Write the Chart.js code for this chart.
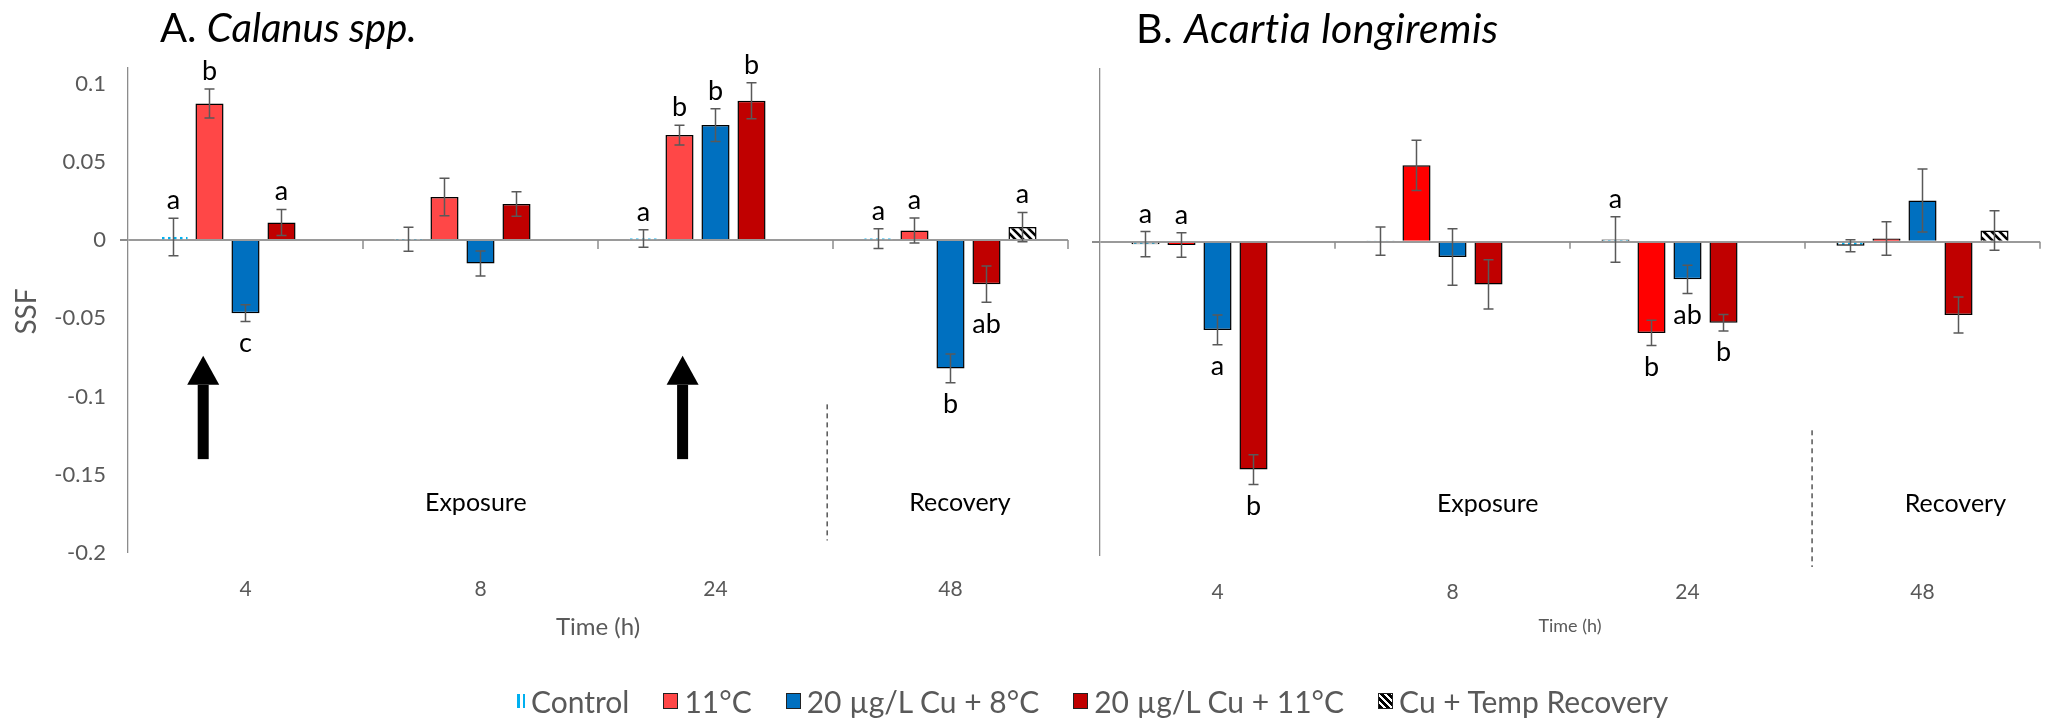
<!DOCTYPE html>
<html>
<head>
<meta charset="utf-8">
<script src="https://cdn.jsdelivr.net/npm/chart.js@4.4.0/dist/chart.umd.min.js"></script>
<style>
  html, body { margin: 0; padding: 0; background: #fff; }
  #wrap { position: relative; width: 2051px; height: 721px; font-family: Lato, 'Open Sans', sans-serif; }
  canvas { position: absolute; top: 0; }
  #cA { left: 0; }
  #cB { left: 1080px; }
  .ttl { position: absolute; top: 3px; font-size: 40px; color: #000; white-space: nowrap; }
  .ttl i { font-style: italic; }
  #legend { position: absolute; top: 683px; left: 517px; display: flex; align-items: center; font-size: 30px; color: #595959; white-space: nowrap; }
  #legend span.item { display: flex; align-items: center; margin-right: 34px; }
  #legend .sw { display: inline-block; width: 13px; height: 14px; border: 1px solid #222; margin-right: 6px; }
</style>
</head>
<body>
<div id="wrap">
  <canvas id="cA" width="1080" height="721"></canvas>
  <canvas id="cB" width="971" height="721"></canvas>
  <div class="ttl" style="left:160px">A. <i>Calanus spp.</i></div>
  <div class="ttl" style="left:1136px; font-size:41px; letter-spacing:0.5px">B. <i>Acartia longiremis</i></div>
  <div id="legend"></div>
</div>
<script>
// ---- data ----
const times = ['4', '8', '24', '48'];
const seriesNames = ['Control', '11°C', '20 µg/L Cu + 8°C', '20 µg/L Cu + 11°C', 'Cu + Temp Recovery'];
const yTicks = [-0.2, -0.15, -0.1, -0.05, 0, 0.05, 0.1];

// A. Calanus spp.
const calControl     = [0.002, 0.0005, 0.001, 0.001];
const calControlErr  = [0.012, 0.0077, 0.0056, 0.0063];
const calWarm        = [0.0873, 0.0276, 0.0671, 0.0062];
const calWarmErr     = [0.0093, 0.012, 0.0063, 0.008];
const calCuCold      = [-0.0467, -0.0149, 0.0735, -0.0820];
const calCuColdErr   = [0.0053, 0.008, 0.0105, 0.0092];
const calCuWarm      = [0.0113, 0.0231, 0.089, -0.0282];
const calCuWarmErr   = [0.0083, 0.0078, 0.0115, 0.0116];
const calRecov       = [0, 0, 0, 0.0083];
const calRecovErr    = [0, 0, 0, 0.0094];
const calLetters = [
  ['a', '', 'a', 'a'],
  ['b', '', 'b', 'a'],
  ['c', '', 'b', 'b'],
  ['a', '', 'b', 'ab'],
  ['', '', '', 'a']
];

// B. Acartia longiremis
const acaControl     = [-0.0015, 0.0005, 0.0015, -0.0025];
const acaControlErr  = [0.008, 0.009, 0.0145, 0.0038];
const acaWarm        = [-0.002, 0.0487, -0.058, 0.0021];
const acaWarmErr     = [0.0078, 0.016, 0.008, 0.0107];
const acaCuCold      = [-0.0561, -0.0097, -0.0239, 0.0263];
const acaCuColdErr   = [0.0095, 0.018, 0.009, 0.02];
const acaCuWarm      = [-0.145, -0.0271, -0.0515, -0.0466];
const acaCuWarmErr   = [0.0095, 0.0156, 0.0052, 0.0114];
const acaRecov       = [0, 0, 0, 0.0072];
const acaRecovErr    = [0, 0, 0, 0.0125];
const acaLetters = [
  ['a', '', 'a', ''],
  ['a', '', 'b', ''],
  ['a', '', 'ab', ''],
  ['b', '', 'b', ''],
  ['', '', '', '']
];

// ---- fills ----
function stripeFill(w, h, draw) {
  const c = document.createElement('canvas');
  c.width = w; c.height = h;
  const g = c.getContext('2d');
  g.fillStyle = '#fff'; g.fillRect(0, 0, w, h);
  draw(g);
  return c;
}
const ctrlTile = stripeFill(6, 6, g => { g.fillStyle = '#00B0F0'; g.fillRect(0, 0, 2.5, 6); });
const hatchTile = stripeFill(8, 8, g => {
  g.strokeStyle = '#000'; g.lineWidth = 2.6;
  g.beginPath();
  g.moveTo(-2, -2); g.lineTo(10, 10);
  g.moveTo(-2, 6); g.lineTo(2, 10);
  g.moveTo(6, -2); g.lineTo(10, 2);
  g.stroke();
});

const FONT = "Lato, 'Open Sans', sans-serif";

// ---- plugin: error bars, letters, arrows, dividers ----
const annot = {
  id: 'annot',
  afterDatasetsDraw(chart, args, o) {
    const { ctx, scales: { x, y } } = chart;
    ctx.save();
    const y0 = y.getPixelForValue(0);
    ctx.strokeStyle = '#8c8c8c'; ctx.lineWidth = 1.5;
    for (let i = 0; i < times.length; i++) {
      const px = x.getPixelForValue(i + 0.5);
      ctx.beginPath(); ctx.moveTo(px, y0); ctx.lineTo(px, y0 + o.tickLen); ctx.stroke();
    }

    chart.data.datasets.forEach((ds, di) => {
      chart.getDatasetMeta(di).data.forEach((bar, i) => {
        const v = ds.data[i], e = ds.errors[i];
        const cx = bar.x;
        if (e) {
          const t = y.getPixelForValue(v + e), b = y.getPixelForValue(v - e);
          ctx.strokeStyle = '#595959'; ctx.lineWidth = 1.5;
          ctx.beginPath();
          ctx.moveTo(cx, t); ctx.lineTo(cx, b);
          ctx.moveTo(cx - 5, t); ctx.lineTo(cx + 5, t);
          ctx.moveTo(cx - 5, b); ctx.lineTo(cx + 5, b);
          ctx.stroke();
        }
        const L = ds.letters[i];
        if (L) {
          ctx.fillStyle = '#000';
          ctx.font = `27px ${FONT}`;
          ctx.textAlign = 'center';
          if (v > -0.01) {
            ctx.textBaseline = 'alphabetic';
            ctx.fillText(L, cx, y.getPixelForValue(v + e) - 9);
          } else {
            ctx.textBaseline = 'top';
            ctx.fillText(L, cx, y.getPixelForValue(v - e) + 8);
          }
        }
      });
    });

    // arrows
    (o.arrows || []).forEach(a => {
      const ax = x.getPixelForValue(a.at);
      const yb = y.getPixelForValue(a.from), yh = y.getPixelForValue(a.head), yt = y.getPixelForValue(a.to);
      ctx.fillStyle = '#000';
      ctx.fillRect(ax - 5.5, yh, 11, yb - yh);
      ctx.beginPath();
      ctx.moveTo(ax - 16, yh); ctx.lineTo(ax, yt); ctx.lineTo(ax + 16, yh); ctx.closePath();
      ctx.fill();
    });

    // divider
    if (o.divider) {
      const d = o.divider, dx = x.getPixelForValue(d.at);
      ctx.strokeStyle = '#000'; ctx.lineWidth = 1; ctx.setLineDash([5, 4]);
      ctx.beginPath(); ctx.moveTo(dx, y.getPixelForValue(d.from)); ctx.lineTo(dx, y.getPixelForValue(d.to)); ctx.stroke();
      ctx.setLineDash([]);
    }

    // period labels
    ctx.fillStyle = '#000'; ctx.font = `25px ${FONT}`;
    ctx.textAlign = 'center'; ctx.textBaseline = 'middle';
    (o.periods || []).forEach(p => ctx.fillText(p.text, x.getPixelForValue(p.at), y.getPixelForValue(p.y)));

    // y axis title
    if (o.yTitle) {
      ctx.save();
      ctx.translate(27, (y.top + y.bottom) / 2 + 1);
      ctx.rotate(-Math.PI / 2);
      ctx.fillStyle = '#595959'; ctx.font = `28px ${FONT}`;
      ctx.fillText(o.yTitle, 0, 0);
      ctx.restore();
    }
    ctx.restore();
  }
};

function makeDatasets(vals, errs, letters, warmColor, ctrlBorder) {
  const colors = [null, warmColor, '#0070C0', '#C00000', null];
  return vals.map((d, k) => ({
    label: seriesNames[k],
    data: d,
    errors: errs[k],
    letters: letters[k],
    backgroundColor: colors[k],
    borderColor: '#000',
    borderWidth: k === 0 ? ctrlBorder : 1.5,
    categoryPercentage: 0.766,
    barPercentage: 0.78
  }));
}

function makeChart(id, datasets, cfg) {
  const canvas = document.getElementById(id);
  const g = canvas.getContext('2d');
  datasets[0].backgroundColor = g.createPattern(ctrlTile, 'repeat');
  datasets[4].backgroundColor = g.createPattern(hatchTile, 'repeat');
  return new Chart(canvas, {
    type: 'bar',
    data: { labels: times, datasets },
    options: {
      responsive: false,
      animation: false,
      layout: { padding: { left: 0, right: cfg.padRight, top: cfg.padTop, bottom: 0 } },
      plugins: { legend: { display: false }, tooltip: { enabled: false }, annot: cfg.annot },
      scales: {
        x: {
          grid: { display: false, drawTicks: false },
          border: { display: false },
          ticks: { color: '#595959', font: { family: FONT, size: 21 }, padding: 24 },
          title: { display: true, text: 'Time (h)', color: '#595959', font: { family: FONT, size: cfg.xTitleSize }, padding: { bottom: cfg.xTitlePad } },
          afterFit: s => { s.height = cfg.xHeight; }
        },
        y: {
          min: -0.2, max: 0.11,
          afterBuildTicks: s => { s.ticks = yTicks.map(v => ({ value: v })); },
          ticks: { display: cfg.yLabels, color: '#595959', font: { family: FONT, size: 22 }, padding: 14,
                   callback: v => String(+v.toFixed(2)) },
          grid: {
            color: c => (c.tick && c.tick.value === 0 ? '#9a9a9a' : 'rgba(0,0,0,0)'),
            lineWidth: c => (c.tick && c.tick.value === 0 ? 2 : 0),
            tickColor: '#8c8c8c', tickLength: 8, drawTicks: true
          },
          border: { display: true, color: '#8c8c8c', width: 1.3 },
          afterFit: s => { s.width = cfg.yWidth; }
        }
      }
    },
    plugins: [annot]
  });
}

makeChart('cA',
  makeDatasets([calControl, calWarm, calCuCold, calCuWarm, calRecov],
               [calControlErr, calWarmErr, calCuColdErr, calCuWarmErr, calRecovErr],
               calLetters, '#FF4747', 0),
  {
    padRight: 12, padTop: 68, xHeight: 168, yWidth: 128, yLabels: true, xTitleSize: 24, xTitlePad: 79,
    annot: {
      tickLen: 9,
      yTitle: 'SSF',
      arrows: [{ at: -0.18, from: -0.14, head: -0.0925, to: -0.074 },
               { at: 1.86, from: -0.14, head: -0.0925, to: -0.074 }],
      divider: { at: 2.475, from: -0.105, to: -0.192 },
      periods: [{ text: 'Exposure', at: 0.98, y: -0.168 }, { text: 'Recovery', at: 3.04, y: -0.168 }]
    }
  });

makeChart('cB',
  makeDatasets([acaControl, acaWarm, acaCuCold, acaCuWarm, acaRecov],
               [acaControlErr, acaWarmErr, acaCuColdErr, acaCuWarmErr, acaRecovErr],
               acaLetters, '#FF0000', 1.5),
  {
    padRight: 11, padTop: 69, xHeight: 165, yWidth: 20, yLabels: false, xTitleSize: 18, xTitlePad: 84,
    annot: {
      tickLen: 7,
      divider: { at: 2.53, from: -0.12, to: -0.207 },
      periods: [{ text: 'Exposure', at: 1.15, y: -0.167 }, { text: 'Recovery', at: 3.14, y: -0.167 }]
    }
  });

// ---- legend ----
const legendSwatches = [
  'background: repeating-linear-gradient(90deg, #00B0F0 0 3px, #fff 3px 6px); border:none; width:8px;',
  'background:#FF4747;',
  'background:#0070C0;',
  'background:#C00000;',
  'background: repeating-linear-gradient(45deg, #000 0 3px, #fff 3px 5px);'
];
const legend = document.getElementById('legend');
seriesNames.forEach((n, k) => {
  const it = document.createElement('span');
  it.className = 'item';
  it.innerHTML = `<span class="sw" style="${legendSwatches[k]}"></span>${n}`;
  legend.appendChild(it);
});
</script>
</body>
</html>
